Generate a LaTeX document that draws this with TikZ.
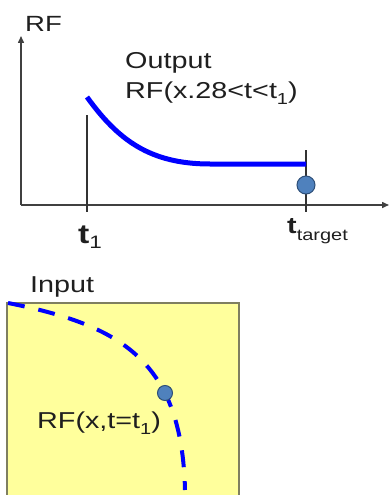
\documentclass[tikz,border=0pt]{standalone}
\usepackage{fontspec}
\setmainfont[FakeStretch=1.25]{Liberation Sans}
\usetikzlibrary{arrows.meta}

\definecolor{dotblue}{HTML}{4F81BD}
\definecolor{dotrim}{HTML}{2E4F78}
\definecolor{boxfill}{HTML}{FFFF9C}
\definecolor{boxrim}{HTML}{7F7F60}
\definecolor{axisgray}{HTML}{404040}

\newcommand\fsz[1]{\fontsize{#1}{#1}\selectfont}
\newcommand\lowsub[1]{\raisebox{-0.3em}{\fsz{16}#1}}

\begin{document}
\begin{tikzpicture}[
    x=1pt, y=-1pt,
    lbl/.style={anchor=base west, inner sep=0pt, font=\fsz{23}, text=black!88},
    axis/.style={line width=1.5pt, axisgray, -{Triangle[length=7pt,width=6pt]}},
    tick/.style={line width=1.5pt, black!80},
    rfcurve/.style={line width=5pt, blue},
    dashcurve/.style={line width=4pt, blue, dash pattern=on 17pt off 14pt},
    dot/.style={circle, fill=dotblue, draw=dotrim, line width=1pt, inner sep=0pt},
    inbox/.style={fill=boxfill, draw=boxrim, line width=1.5pt}
]
\clip (0,0) rectangle (390,495);

% output plot
\coordinate (orig)  at (21,205);
\coordinate (ytop)  at (21,36);
\coordinate (xend)  at (389,205);
\coordinate (tonetop) at (87,115);
\coordinate (tonebot) at (87,212);
\coordinate (tgttop)  at (306,150);
\coordinate (tgtbot)  at (306,212);
\coordinate (cstart) at (87,97);
\coordinate (cflat)  at (210,164);
\coordinate (cend)   at (306,164);

\draw[axis] (orig) -- (ytop);
\draw[axis] (orig) -- (xend);
\draw[tick] (tonetop) -- (tonebot);
\draw[tick] (tgttop) -- (tgtbot);
\draw[rfcurve] (cstart) .. controls (118,140) and (150,164) .. (cflat) -- (cend);
\node[dot, minimum size=18pt] (tgtdot) at (306,185) {};

\node[lbl, font=\fsz{22}] (rflabel) at (25,32) {RF};
\node[lbl] (outtitle) at (125,68) {Output};
\node[lbl] (outrf) at (125,98) {RF(x.28<t<t\lowsub{1})};
\node[lbl, font=\fsz{27}\bfseries] (tone) at (78,243) {t\raisebox{-5pt}{\fsz{18}\mdseries 1}};
\node[lbl, font=\fsz{23}\bfseries] (ttarget) at (287,233) {t\raisebox{-7pt}{\fsz{16}\mdseries target}};

% input field
\coordinate (dstart) at (8,303);
\coordinate (dend)   at (185,490);

\node[lbl] (intitle) at (30,292) {Input};
\draw[inbox] (7,303) rectangle (239,505);
\draw[dashcurve] (dstart) .. controls (120,325) and (182,360) .. (dend);
\node[dot, minimum size=15pt] (indot) at (165,393) {};
\node[lbl] (inrf) at (37,428) {RF(x,t=t\lowsub{1})};

\end{tikzpicture}
\end{document}
